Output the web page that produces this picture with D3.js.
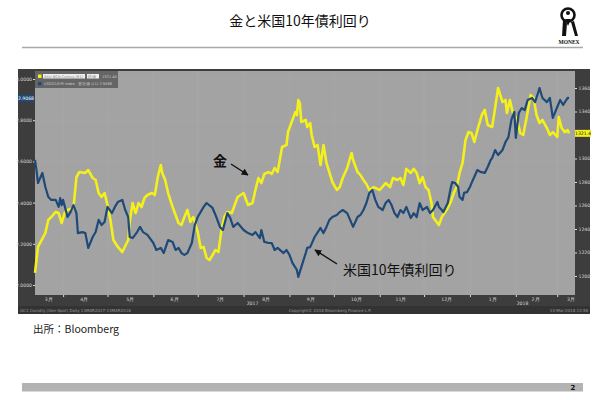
<!DOCTYPE html>
<html><head><meta charset="utf-8">
<script src="https://cdn.jsdelivr.net/npm/d3@7"></script>
<style>body{margin:0;background:#fff;} svg{display:block;}</style>
</head><body><svg id="c" width="600" height="400"></svg>
<script>
// ---- data ----
const startDate = "2017-03-13";
const endDate = "2018-03-13";
// gold spot (right axis), days since startDate
const goldDays = [0,2,7,9,11,14,16,18,20,22,26,28,30,34,36,39,41,43,45,47,49,51,53,56,59,63,64,66,68,70,72,74,76,79,81,83,85,86,88,90,93,97,99,101,103,105,107,110,112,114,116,118,122,124,126,128,130,133,137,141,144,147,149,151,153,155,158,160,162,164,167,170,171,174,176,177,178,179,180,183,184,186,187,189,191,193,195,197,201,204,206,208,211,214,215,218,220,222,224,226,229,233,237,240,242,245,247,249,251,254,256,258,260,262,264,266,268,269,272,273,275,279,281,283,285,287,289,291,293,295,297,299,302,304,306,309,311,313,316,318,319,321,323,326,328,330,333,335,337,339,341,343,346,348,350,353,354,356,358,360,361];
const goldPrice = [1202.6,1224.7,1236.6,1247.7,1250.2,1254.5,1253.6,1245.1,1253.6,1256.2,1257.9,1284.2,1288.5,1287.7,1290.2,1283.4,1281.7,1270.6,1267.2,1270.6,1260.4,1247.7,1230.6,1224.7,1220.4,1230.6,1246.0,1262.1,1253.6,1262.1,1258.7,1266.4,1268.9,1270.6,1268.9,1284.2,1294.5,1287.7,1281.7,1270.6,1258.7,1245.1,1243.4,1250.2,1256.2,1246.0,1250.2,1237.4,1223.8,1224.7,1215.3,1213.6,1222.1,1220.4,1239.1,1250.2,1254.5,1253.6,1267.2,1270.6,1260.4,1262.1,1273.2,1283.4,1279.1,1286.8,1288.5,1286.8,1291.9,1288.5,1309.8,1311.5,1322.5,1332.8,1339.6,1337.0,1349.8,1347.2,1331.1,1332.8,1326.8,1330.2,1320.0,1309.8,1311.5,1294.5,1311.5,1296.2,1280.0,1273.2,1275.7,1283.4,1291.9,1304.7,1298.7,1288.5,1285.9,1281.7,1278.3,1273.2,1275.7,1273.2,1279.1,1275.7,1283.4,1281.7,1283.4,1277.5,1291.2,1287.7,1291.2,1287.7,1279.1,1284.2,1275.7,1273.2,1262.1,1250.2,1245.1,1243.4,1250.2,1257.9,1263.0,1270.6,1275.7,1287.7,1296.2,1315.7,1322.5,1321.7,1314.0,1324.2,1337.0,1341.3,1328.5,1326.8,1343.0,1360.0,1348.1,1349.8,1338.7,1349.8,1338.7,1332.8,1321.7,1320.0,1339.6,1354.0,1351.5,1337.0,1330.2,1332.8,1325.9,1320.0,1322.5,1318.3,1335.3,1325.9,1322.5,1324.2,1321.4];
// US 10-year yield (left axis), days since startDate
const yieldDays = [0,1,2,5,7,9,11,14,16,17,18,19,22,24,26,28,29,32,34,36,39,41,43,45,47,49,52,54,56,59,61,63,64,66,69,71,73,76,80,82,85,87,90,93,95,97,99,101,103,106,108,110,114,116,120,122,125,127,130,132,134,137,141,144,147,149,152,153,155,158,160,162,164,168,170,172,174,177,178,180,183,184,186,189,193,195,197,199,201,204,206,208,211,213,215,218,220,222,224,226,228,230,232,235,237,239,241,243,245,247,249,251,254,256,258,260,262,265,267,269,272,273,275,276,279,281,282,284,286,287,289,290,292,294,296,299,301,304,306,308,309,311,313,316,318,320,322,324,325,327,329,331,333,336,338,340,341,343,346,348,350,353,355,357,360,361];
const yieldPct = [2.607,2.558,2.495,2.544,2.476,2.427,2.413,2.413,2.379,2.422,2.388,2.413,2.330,2.354,2.388,2.349,2.252,2.257,2.252,2.180,2.233,2.257,2.316,2.291,2.306,2.379,2.349,2.379,2.403,2.413,2.364,2.330,2.233,2.228,2.257,2.282,2.257,2.243,2.204,2.170,2.180,2.155,2.218,2.209,2.170,2.180,2.155,2.146,2.155,2.204,2.291,2.330,2.379,2.398,2.374,2.340,2.282,2.267,2.349,2.325,2.282,2.301,2.267,2.252,2.243,2.257,2.228,2.267,2.209,2.204,2.204,2.170,2.180,2.155,2.170,2.146,2.107,2.073,2.039,2.087,2.155,2.180,2.184,2.233,2.277,2.252,2.282,2.316,2.330,2.340,2.354,2.364,2.349,2.316,2.282,2.330,2.340,2.364,2.398,2.447,2.461,2.413,2.379,2.364,2.398,2.413,2.388,2.349,2.330,2.364,2.349,2.379,2.325,2.349,2.330,2.398,2.364,2.379,2.349,2.364,2.403,2.379,2.364,2.354,2.398,2.471,2.500,2.495,2.476,2.427,2.413,2.447,2.451,2.476,2.510,2.558,2.549,2.544,2.573,2.607,2.616,2.655,2.631,2.655,2.694,2.718,2.801,2.840,2.714,2.835,2.859,2.849,2.898,2.908,2.888,2.932,2.956,2.908,2.888,2.908,2.811,2.864,2.898,2.874,2.908,2.9068];
const leftTicks = [2.0, 2.2, 2.4, 2.6, 2.8, 3.0];
const rightTicks = [1200, 1220, 1240, 1260, 1280, 1300, 1340, 1360];
const monthLabelDates = ["2017-03-22","2017-04-15","2017-05-16","2017-06-15","2017-07-16","2017-08-16","2017-09-15","2017-10-16","2017-11-15","2017-12-16","2018-01-16","2018-02-14","2018-03-10"];
const monthLabels = ["3月","4月","5月","6月","7月","8月","9月","10月","11月","12月","1月","2月","3月"];
const yearLabels = ["2017","2018"];
const lastYield = "2.9068";
const lastGold = "1321.4";
const title = "金と米国10年債利回り";
const goldLabel = "金";
const yieldLabel = "米国10年債利回り";
const source = "出所：Bloomberg";

// ---- drawing ----
const svg = d3.select("#c");
const JP = "'Noto Sans CJK JP','Noto Sans',sans-serif";
const parse = d3.timeParse("%Y-%m-%d");
const t0 = parse(startDate), t1 = parse(endDate);
const P = {l: 35, r: 575, t: 71, b: 295};

const x = d3.scaleTime().domain([t0, t1]).range([P.l, P.r]);
const yL = d3.scaleLinear().domain([2.0, 3.0]).range([285, 79]);
const yR = d3.scaleLinear().domain([1200, 1360]).range([276, 88]);

// header
svg.append("text").attr("x", 300).attr("y", 26).attr("text-anchor", "middle")
  .attr("font-family", JP).attr("font-size", 14).attr("fill", "#111").text(title);
svg.append("line").attr("x1", 22).attr("x2", 583).attr("y1", 47.5).attr("y2", 47.5)
  .attr("stroke", "#a8a8a8").attr("stroke-width", 1.5);
// logo
const lg = svg.append("g").attr("transform", "translate(72,0)");
lg.append("circle").attr("cx", 496).attr("cy", 15).attr("r", 6.5).attr("fill", "none").attr("stroke", "#111").attr("stroke-width", 2.6);
lg.append("circle").attr("cx", 496).attr("cy", 13).attr("r", 2).attr("fill", "#111");
lg.append("path").attr("d", "M491,20 L490,36 L494,36 L495,23 Z M499,22 L503,36 L506,36 L502,21 Z M493,19 L499,19 L496,26 Z").attr("fill", "#111");
lg.append("text").attr("x", 497).attr("y", 44).attr("text-anchor", "middle").attr("font-family", "'Liberation Serif',serif")
  .attr("font-weight", "bold").attr("font-size", 5.5).attr("fill", "#111").text("MONEX");

// chart frame
svg.append("rect").attr("x", 18).attr("y", 69).attr("width", 572).attr("height", 245).attr("fill", "#3d3d3d");
svg.append("rect").attr("x", 18).attr("y", 306).attr("width", 572).attr("height", 8).attr("fill", "#333");
svg.append("rect").attr("x", P.l).attr("y", P.t).attr("width", P.r - P.l).attr("height", P.b - P.t).attr("fill", "#a3a3a3");

// faint grid
const g = svg.append("g");
g.selectAll("line.v").data(d3.timeMonth.range(t0, t1)).join("line")
  .attr("x1", d => x(d)).attr("x2", d => x(d)).attr("y1", P.t).attr("y2", P.b)
  .attr("stroke", "#ababab").attr("stroke-width", 0.6);
g.selectAll("line.h").data(leftTicks).join("line")
  .attr("x1", P.l).attr("x2", P.r).attr("y1", d => yL(d)).attr("y2", d => yL(d))
  .attr("stroke", "#a9a9a9").attr("stroke-width", 0.5);

// axes
const axStyle = sel => {
  sel.select(".domain").remove();
  sel.selectAll("line").attr("stroke", "#ddd");
  sel.selectAll("text").attr("fill", "#d8d8d8").attr("font-size", 4.6).attr("font-family", "'DejaVu Sans',sans-serif");
};
svg.append("g").attr("transform", `translate(${P.l},0)`)
  .call(d3.axisLeft(yL).tickValues(leftTicks).tickFormat(d3.format(".4f")).tickSize(2).tickPadding(1)).call(axStyle);
svg.append("g").attr("transform", `translate(${P.r},0)`)
  .call(d3.axisRight(yR).tickValues(rightTicks).tickFormat(d3.format("d")).tickSize(2).tickPadding(1.5)).call(axStyle);
svg.append("g").attr("transform", `translate(0,${P.b})`)
  .call(d3.axisBottom(x).tickValues(monthLabelDates.map(parse)).tickFormat((d, i) => monthLabels[i]).tickSize(0).tickPadding(3)).call(axStyle);
svg.append("g").attr("transform", `translate(0,${P.b})`)
  .call(d3.axisBottom(x).tickValues(d3.timeMonth.range(t0, t1)).tickFormat("").tickSize(2)).call(axStyle);
// year labels centered on the year spans
const yrSpans = [[t0, parse("2018-01-01")], [parse("2018-01-01"), t1]];
svg.selectAll("text.yr").data(yearLabels).join("text")
  .attr("x", (d, i) => (x(yrSpans[i][0]) + x(yrSpans[i][1])) / 2).attr("y", 305)
  .attr("text-anchor", "middle").attr("font-size", 4.6).attr("font-family", "'DejaVu Sans',sans-serif")
  .attr("fill", "#d8d8d8").text(d => d);
// footer strip texts
const ft = (xx, anchor, s) => svg.append("text").attr("x", xx).attr("y", 311.5).attr("text-anchor", anchor)
  .attr("font-size", 4).attr("font-family", "'DejaVu Sans',sans-serif").attr("fill", "#9a9a9a").text(s);
ft(20, "start", "GC1 Comdty (Gen Spot) Daily 13MAR2017-13MAR2018");
ft(330, "middle", "Copyright© 2018 Bloomberg Finance L.P.");
ft(588, "end", "13-Mar-2018 13:58");

// lines
const goldData = goldDays.map((d, i) => ({t: d3.timeDay.offset(t0, d), v: goldPrice[i]}));
const yieldData = yieldDays.map((d, i) => ({t: d3.timeDay.offset(t0, d), v: yieldPct[i]}));
svg.append("path").datum(goldData)
  .attr("d", d3.line().x(d => x(d.t)).y(d => yR(d.v)))
  .attr("fill", "none").attr("stroke", "#f4f01a").attr("stroke-width", 2.6).attr("stroke-linejoin", "round");
svg.append("path").datum(yieldData)
  .attr("d", d3.line().x(d => x(d.t)).y(d => yL(d.v)))
  .attr("fill", "none").attr("stroke", "#1f4a78").attr("stroke-width", 2.2).attr("stroke-linejoin", "round");

// last value tags
const yTag = yL(+lastYield);
svg.append("rect").attr("x", 18).attr("y", yTag - 3.5).attr("width", 16).attr("height", 7).attr("fill", "#1f4a78");
svg.append("text").attr("x", 26).attr("y", yTag + 1.6).attr("text-anchor", "middle").attr("font-size", 4.6)
  .attr("font-family", "'DejaVu Sans',sans-serif").attr("fill", "#fff").text(lastYield);
const gTag = yR(+lastGold);
svg.append("rect").attr("x", 575).attr("y", gTag - 3.5).attr("width", 16).attr("height", 7).attr("fill", "#f4f01a");
svg.append("text").attr("x", 583).attr("y", gTag + 1.6).attr("text-anchor", "middle").attr("font-size", 4.6)
  .attr("font-family", "'DejaVu Sans',sans-serif").attr("fill", "#222").text(lastGold);

// legend box
const lgd = svg.append("g");
lgd.append("rect").attr("x", 35).attr("y", 71).attr("width", 83).attr("height", 17).attr("fill", "#5a5a5a").attr("opacity", 0.85);
lgd.append("rect").attr("x", 38).attr("y", 74.5).attr("width", 3.5).attr("height", 3.5).attr("fill", "#f4f01a");
lgd.append("rect").attr("x", 38).attr("y", 82).attr("width", 3.5).attr("height", 3.5).attr("fill", "#1f4a78");
lgd.append("rect").attr("x", 43).attr("y", 74).attr("width", 42).attr("height", 4.5).attr("fill", "#eee");
lgd.append("rect").attr("x", 87).attr("y", 74).attr("width", 12).attr("height", 4.5).attr("fill", "#eee");
const lt = (xx, yy, s, c) => lgd.append("text").attr("x", xx).attr("y", yy).attr("font-size", 3.6)
  .attr("font-family", "'DejaVu Sans',sans-serif").attr("fill", c).text(s);
lt(44, 77.6, "XAU BGN Curncy (R1)", "#888");
lt(88, 77.6, "終値", "#888");
lt(102, 77.6, lastGold + "0", "#ccc");
lt(44, 85.2, "USGG10YR Index", "#ccc");
lt(78, 85.2, "直近値 (L1) " + lastYield, "#ccc");

// annotations
const defs = svg.append("defs");
defs.append("marker").attr("id", "ah").attr("viewBox", "0 0 10 10").attr("refX", 9).attr("refY", 5)
  .attr("markerWidth", 5).attr("markerHeight", 5).attr("orient", "auto")
  .append("path").attr("d", "M0,0 L10,5 L0,10 Z").attr("fill", "#111");
svg.append("text").attr("x", 220).attr("y", 166).attr("text-anchor", "middle").attr("font-family", JP)
  .attr("font-size", 14).attr("font-weight", "bold").attr("fill", "#111").text(goldLabel);
svg.append("line").attr("x1", 231).attr("y1", 164).attr("x2", 248).attr("y2", 175)
  .attr("stroke", "#111").attr("stroke-width", 1.4).attr("marker-end", "url(#ah)");
svg.append("text").attr("x", 343).attr("y", 275).attr("font-family", JP)
  .attr("font-size", 14).attr("fill", "#111").text(yieldLabel);
svg.append("line").attr("x1", 337).attr("y1", 264).attr("x2", 315).attr("y2", 250)
  .attr("stroke", "#111").attr("stroke-width", 1.4).attr("marker-end", "url(#ah)");

// source & footer
svg.append("text").attr("x", 33).attr("y", 333).attr("font-family", JP).attr("font-size", 10.5)
  .attr("fill", "#222").text(source);
svg.append("rect").attr("x", 22).attr("y", 383).attr("width", 561).attr("height", 8.5).attr("fill", "#b3b3b3");
svg.append("text").attr("x", 573).attr("y", 390).attr("text-anchor", "middle").attr("font-family", "'DejaVu Sans',sans-serif")
  .attr("font-size", 7).attr("font-weight", "bold").attr("fill", "#111").text("2");
</script></body></html>
